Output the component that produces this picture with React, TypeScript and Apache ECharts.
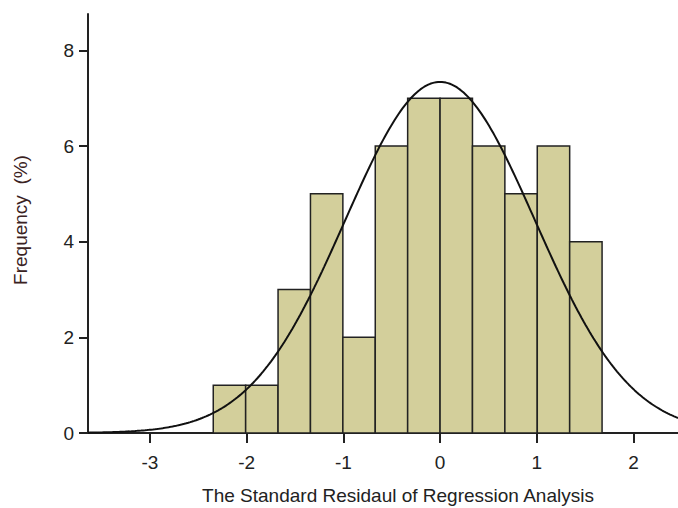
import React, { useEffect, useRef } from "react";
import * as echarts from "echarts";

// Histogram bins (left edges + right edges) and frequencies
const binEdges = [-2.345, -2.01, -1.675, -1.34, -1.005, -0.67, -0.335, 0, 0.335, 0.67, 1.005, 1.34, 1.675];
const frequencies = [1, 1, 3, 5, 2, 6, 7, 7, 6, 5, 6, 4];

// Fitted normal curve parameters (mean, standard deviation, peak height)
const curveMean = [0];
const curveSd = [0.98];
const curvePeak = [7.34];
const curveRange = [-3.64, 2.46];

const xTicks = [-3, -2, -1, 0, 1, 2];
const yTicks = [0, 2, 4, 6, 8];

const xTitle = "The Standard Residaul of Regression Analysis";
const yTitle = "Frequency  (%)";

const FONT = "Liberation Sans, Arial, sans-serif";
const TEXT = "#222";

export default function App() {
  const ref = useRef<HTMLDivElement>(null);
  useEffect(() => {
    if (!ref.current) return;
    const chart = echarts.init(ref.current, undefined, { renderer: "svg" });

    const bars = frequencies.map((v, i) => [binEdges[i], binEdges[i + 1], v]);
    const curve: number[][] = [];
    const steps = 300;
    for (let i = 0; i <= steps; i++) {
      const x = curveRange[0] + ((curveRange[1] - curveRange[0]) * i) / steps;
      const z = (x - curveMean[0]) / curveSd[0];
      curve.push([x, curvePeak[0] * Math.exp(-0.5 * z * z)]);
    }

    chart.setOption({
      animation: false,
      grid: { left: 88, top: 14, right: 0, bottom: 75, containLabel: false },
      xAxis: {
        type: "value",
        min: curveRange[0],
        max: curveRange[1],
        splitLine: { show: false },
        axisLine: { show: true, onZero: false, lineStyle: { color: TEXT, width: 2 } },
        axisTick: { show: true, length: 10, customValues: xTicks, lineStyle: { color: TEXT, width: 2 } },
        axisLabel: {
          customValues: xTicks,
          margin: 20,
          color: TEXT,
          fontSize: 19,
          fontFamily: FONT,
        },
      },
      yAxis: {
        type: "value",
        min: 0,
        max: 8.76,
        splitLine: { show: false },
        axisLine: { show: true, onZero: false, lineStyle: { color: TEXT, width: 2 } },
        axisTick: { show: true, length: 9, customValues: yTicks, lineStyle: { color: TEXT, width: 2 } },
        axisLabel: {
          customValues: yTicks,
          margin: 14,
          color: TEXT,
          fontSize: 19,
          fontFamily: FONT,
        },
      },
      graphic: [
        {
          type: "text",
          x: 398,
          y: 495,
          style: {
            text: xTitle,
            fill: TEXT,
            font: `19px ${FONT}`,
            textAlign: "center",
            textVerticalAlign: "middle",
          },
        },
        {
          type: "text",
          x: 20,
          y: 220,
          rotation: Math.PI / 2,
          style: {
            text: yTitle,
            fill: "#3a2222",
            font: `19px ${FONT}`,
            textAlign: "center",
            textVerticalAlign: "middle",
          },
        },
      ],
      series: [
        {
          type: "custom",
          data: bars,
          encode: { x: [0, 1], y: 2 },
          renderItem: (params: any, api: any) => {
            const p0 = api.coord([api.value(0), api.value(2)]);
            const p1 = api.coord([api.value(1), 0]);
            return {
              type: "rect",
              shape: { x: p0[0], y: p0[1], width: p1[0] - p0[0], height: p1[1] - p0[1] },
              style: { fill: "#d3cf9b", stroke: "#222", lineWidth: 1.5 },
            };
          },
          z: 1,
        },
        {
          type: "line",
          data: curve,
          showSymbol: false,
          symbol: "none",
          lineStyle: { color: "#111", width: 2 },
          z: 3,
        },
      ],
    });
    return () => chart.dispose();
  }, []);
  return (
    <div
      ref={ref}
      style={{ position: "fixed", left: 0, top: 0, width: 678, height: 508, background: "#fff" }}
    />
  );
}
